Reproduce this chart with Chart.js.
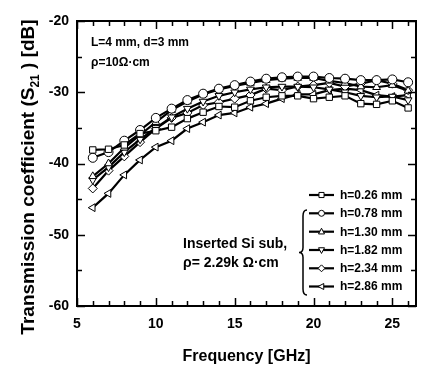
<!DOCTYPE html>
<html>
<head>
<meta charset="utf-8">
<script src="https://cdn.jsdelivr.net/npm/chart.js@4"></script>
<style>
html,body{margin:0;padding:0;background:#fff;}
#wrap{width:424px;height:372px;position:relative;}
</style>
</head>
<body>
<div id="wrap"><canvas id="c" width="424" height="372"></canvas></div>
<script>
// ---- data ----
const freq = [6,7,8,9,10,11,12,13,14,15,16,17,18,19,20,21,22,23,24,25,26];
const s026 = [-38.1,-38.0,-37.4,-35.8,-35.4,-34.9,-33.7,-32.8,-32.0,-32.1,-31.2,-30.7,-30.5,-30.5,-30.9,-30.7,-30.5,-31.6,-31.7,-31.2,-32.2];
const s078 = [-39.2,-38.4,-36.8,-35.3,-33.6,-32.3,-31.1,-30.2,-29.5,-29.0,-28.5,-28.1,-27.9,-27.8,-27.8,-28.0,-28.1,-28.3,-28.3,-28.2,-28.6];
const s130 = [-41.8,-40.0,-37.8,-36.0,-34.2,-32.5,-31.3,-30.3,-29.6,-29.1,-28.7,-28.3,-28.1,-28.0,-28.0,-28.4,-28.7,-29.2,-29.3,-29.0,-29.8];
const s182 = [-42.3,-40.5,-38.4,-36.6,-35.0,-33.5,-32.3,-31.3,-30.5,-30.0,-29.6,-29.3,-29.2,-29.2,-29.3,-29.6,-30.0,-30.5,-30.7,-30.6,-31.1];
const s234 = [-43.5,-41.0,-39.0,-37.0,-35.1,-33.6,-32.9,-31.8,-31.4,-30.9,-30.4,-29.5,-29.7,-29.2,-29.0,-28.7,-29.2,-28.8,-28.3,-28.8,-29.7];
const s286 = [-46.2,-44.2,-41.6,-39.5,-37.7,-36.8,-35.1,-34.2,-33.2,-32.9,-32.1,-31.6,-30.9,-30.3,-30.3,-29.7,-29.5,-29.7,-30.4,-30.6,-30.4];
const seriesLabels = ['h=0.26 mm','h=0.78 mm','h=1.30 mm','h=1.82 mm','h=2.34 mm','h=2.86 mm'];
const xTicks = [5,10,15,20,25];
const yTicks = [-60,-50,-40,-30,-20];

const styles = [
  {ps:'rect', rot:0},
  {ps:'circle', rot:0},
  {ps:'triangle', rot:0},
  {ps:'triangle', rot:180},
  {ps:'rectRot', rot:0},
  {ps:'triangle', rot:-90}
];
const allSeries = [s026,s078,s130,s182,s234,s286];
const FONT = '"Liberation Sans", Arial, sans-serif';

const datasets = allSeries.map((s,i)=>({
  label: seriesLabels[i],
  data: s.map((v,j)=>({x:freq[j], y:v})),
  borderColor:'#000',
  borderWidth:2.2,
  backgroundColor:'#fff',
  pointStyle: styles[i].ps,
  rotation: styles[i].rot,
  pointRadius: 4.5,
  pointBorderWidth: 1,
  pointBorderColor:'#000',
  pointBackgroundColor:'#fff',
  tension:0,
  fill:false
}));

function drawMarker(ctx, style, x, y, r){
  ctx.save();
  ctx.translate(x,y);
  ctx.rotate(style.rot*Math.PI/180);
  ctx.beginPath();
  if(style.ps==='rect'){ const s=r*0.85; ctx.rect(-s,-s,2*s,2*s); }
  else if(style.ps==='circle'){ ctx.arc(0,0,r,0,Math.PI*2); }
  else if(style.ps==='triangle'){
    ctx.moveTo(0,-r*1.15); ctx.lineTo(r,r*0.75); ctx.lineTo(-r,r*0.75); ctx.closePath();
  } else if(style.ps==='rectRot'){
    ctx.moveTo(0,-r*1.15); ctx.lineTo(r*1.15,0); ctx.lineTo(0,r*1.15); ctx.lineTo(-r*1.15,0); ctx.closePath();
  }
  ctx.fillStyle='#fff'; ctx.fill();
  ctx.lineWidth=1; ctx.strokeStyle='#000'; ctx.stroke();
  ctx.restore();
}

const framePlugin = {
  id:'frame',
  afterDraw(chart){
    const ctx = chart.ctx, a = chart.chartArea;
    const xs = chart.scales.x, ys = chart.scales.y;
    ctx.save();
    ctx.strokeStyle='#000';
    ctx.lineWidth=2;
    ctx.strokeRect(a.left, a.top, a.right-a.left, a.bottom-a.top);
    ctx.lineWidth=1.5;
    for(let f=5; f<=26; f++){
      const px = Math.round(xs.getPixelForValue(f))+0.5;
      const len = (f%5===0)?8:5;
      ctx.beginPath();
      ctx.moveTo(px,a.bottom); ctx.lineTo(px,a.bottom-len);
      ctx.moveTo(px,a.top); ctx.lineTo(px,a.top+len);
      ctx.stroke();
    }
    for(let v=-60; v<=-20; v+=5){
      const py = Math.round(ys.getPixelForValue(v))+0.5;
      const len = (v%10===0)?8:5;
      ctx.beginPath();
      ctx.moveTo(a.left,py); ctx.lineTo(a.left+len,py);
      ctx.moveTo(a.right,py); ctx.lineTo(a.right-len,py);
      ctx.stroke();
    }
    // y-axis title with subscript
    ctx.fillStyle='#000';
    ctx.save();
    ctx.translate(34, 177);
    ctx.rotate(-Math.PI/2);
    const main = 'bold 19px '+FONT, sub='bold 12px '+FONT;
    const p1='Transmission coefficient (S', p2='21', p3=' ) [dB]';
    ctx.font=main; const w1=ctx.measureText(p1).width, w3=ctx.measureText(p3).width;
    ctx.font=sub; const w2=ctx.measureText(p2).width;
    let x0 = -(w1+w2+w3)/2;
    ctx.textBaseline='alphabetic'; ctx.textAlign='left';
    ctx.font=main; ctx.fillText(p1,x0,0);
    ctx.font=sub; ctx.fillText(p2,x0+w1,5);
    ctx.font=main; ctx.fillText(p3,x0+w1+w2,0);
    ctx.restore();
    // top-left annotation
    ctx.font='bold 12px '+FONT;
    ctx.textAlign='left'; ctx.textBaseline='middle';
    ctx.fillText('L=4 mm, d=3 mm', 91, 43);
    ctx.fillText('\u03C1=10\u03A9\u00B7cm', 91, 63);
    // inserted text
    ctx.font='bold 14px '+FONT;
    ctx.fillText('Inserted Si sub,', 183, 244);
    ctx.fillText('\u03C1= 2.29k \u03A9\u00B7cm', 183, 263);
    // legend
    const ly=[195,213.3,231.7,250,268.3,286.5];
    ctx.font='bold 12px '+FONT;
    for(let i=0;i<6;i++){
      ctx.lineWidth=2.2; ctx.strokeStyle='#000';
      ctx.beginPath(); ctx.moveTo(309,ly[i]); ctx.lineTo(334,ly[i]); ctx.stroke();
      drawMarker(ctx, styles[i], 321.5, ly[i], 3);
      ctx.fillStyle='#000';
      ctx.fillText(seriesLabels[i], 340, ly[i]+0.5);
    }
    // brace
    ctx.lineWidth=1.5; ctx.strokeStyle='#000';
    const bx=303, top=210, bot=295, mid=(top+bot)/2;
    ctx.beginPath();
    ctx.moveTo(bx+4, top);
    ctx.quadraticCurveTo(bx, top, bx, top+6);
    ctx.lineTo(bx, mid-5);
    ctx.quadraticCurveTo(bx, mid, bx-4, mid);
    ctx.quadraticCurveTo(bx, mid, bx, mid+5);
    ctx.lineTo(bx, bot-6);
    ctx.quadraticCurveTo(bx, bot, bx+4, bot);
    ctx.stroke();
    ctx.restore();
  }
};

new Chart(document.getElementById('c'), {
  type:'line',
  data:{datasets},
  options:{
    responsive:false,
    animation:false,
    layout:{padding:{left:0,right:8,top:21,bottom:0}},
    plugins:{legend:{display:false}, tooltip:{enabled:false}},
    scales:{
      x:{
        type:'linear', min:5, max:26.5,
        afterBuildTicks(s){ s.ticks = xTicks.map(v=>({value:v})); },
        afterFit(s){ s.height = 66; },
        grid:{display:false, drawTicks:false},
        border:{display:false},
        ticks:{color:'#000', font:{family:FONT, size:14, weight:'bold'}, padding:10, maxRotation:0},
        title:{display:true, text:'Frequency [GHz]', color:'#000', font:{family:FONT, size:16, weight:'bold'}, padding:{top:4,bottom:6}}
      },
      y:{
        type:'linear', min:-60, max:-20,
        afterBuildTicks(s){ s.ticks = yTicks.map(v=>({value:v})); },
        afterFit(s){ s.width = 77; },
        grid:{display:false, drawTicks:false},
        border:{display:false},
        ticks:{color:'#000', font:{family:FONT, size:14, weight:'bold'}, padding:8}
      }
    }
  },
  plugins:[framePlugin]
});
</script>
</body>
</html>
